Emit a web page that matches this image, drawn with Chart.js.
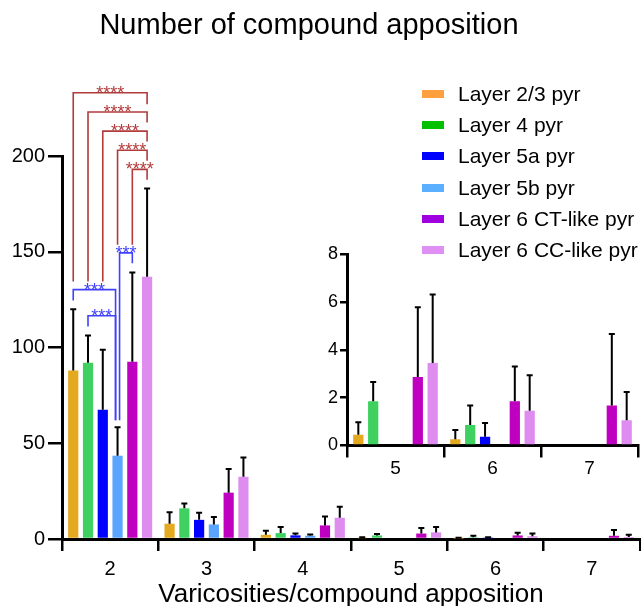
<!DOCTYPE html>
<html lang="en">
<head>
  <meta charset="UTF-8" />
  <title>Number of compound apposition</title>
  <script src="https://cdn.jsdelivr.net/npm/chart.js"></script>
  <style>
    html, body { margin: 0; padding: 0; background: #fff; }
    #wrap { position: relative; width: 641px; height: 606px; font-family: "Liberation Sans", Arial, sans-serif; }
    #mainCanvas { position: absolute; left: 0; top: 0; }
    #insetBox { position: absolute; left: 290px; top: 236px; width: 351px; height: 240px; }
    #legend { position: absolute; left: 422px; top: 78px; }
    .leg-row { height: 31.3px; display: flex; align-items: center; font-size: 21px; color: #000; white-space: nowrap; }
    .leg-box { width: 22px; height: 8px; margin-right: 14px; }
  </style>
</head>
<body>
  <div id="wrap">
    <canvas id="mainCanvas" width="641" height="606"></canvas>
    <div id="insetBox"><canvas id="insetCanvas" width="351" height="240"></canvas></div>
    <div id="legend"></div>
  </div>

  <script>
    // categories (varicosities per compound apposition)
    const categories = ["2", "3", "4", "5", "6", "7"];
    const insetCategories = ["5", "6", "7"];
    const seriesNames = ["Layer 2/3 pyr", "Layer 4 pyr", "Layer 5a pyr", "Layer 5b pyr", "Layer 6 CT-like pyr", "Layer 6 CC-like pyr"];

    // means
    const l23Mean  = [88, 8, 2.2, 0.45, 0.26, 0];
    const l4Mean   = [92, 16, 3.1, 1.85, 0.86, 0];
    const l5aMean  = [67.5, 10, 1.9, 0, 0.37, 0];
    const l5bMean  = [43.5, 7.6, 1.7, 0, 0, 0];
    const l6ctMean = [92.5, 24.2, 7.1, 2.86, 1.85, 1.67];
    const l6ccMean = [137, 32.5, 11.1, 3.45, 1.45, 1.06];

    // SD (upper error bar)
    const l23Sd  = [32, 6, 2.1, 0.52, 0.39, 0];
    const l4Sd   = [14.3, 2.6, 3.2, 0.8, 0.81, 0];
    const l5aSd  = [31.3, 3.7, 1.0, 0, 0.57, 0];
    const l5bSd  = [14.8, 3.9, 0.7, 0, 0, 0];
    const l6ctSd = [46.7, 12.3, 4.7, 2.92, 1.45, 2.99];
    const l6ccSd = [46, 10, 5.8, 2.86, 1.48, 1.17];

    const yTicks = [0, 50, 100, 150, 200];
    const insetTicks = [0, 2, 4, 6, 8];

    // significance brackets in category "2": [fromSeries, toSeries, lineY, fromLegEnd, toLegEnd, label]
    const redBrackets = [
      [0, 5, 233, 134.5, 227, "****"],
      [1, 5, 223, 134.5, 217.5, "****"],
      [2, 5, 213, 134.5, 207.6, "****"],
      [3, 5, 203, 153.7, 197.5, "****"],
      [4, 5, 193, 153.7, 187.6, "****"]
    ];
    const blueBrackets = [
      [0, 3, 130.2, 124.6, 62, "***"],
      [1, 3, 116.6, 111, 62, "***"],
      [3, 4, 149.4, 62, 144, "***"]
    ];

    const barColors = ["#E5A920", "#3FD160", "#0000FF", "#5AA5FF", "#C000C0", "#DF8CF0"];
    const legendColors = ["#FFA040", "#00C000", "#0000FF", "#5AAFFF", "#A000E0", "#E090F5"];
    const FONT = '"Liberation Sans", Arial, sans-serif';

    const means = [l23Mean, l4Mean, l5aMean, l5bMean, l6ctMean, l6ccMean];
    const sds = [l23Sd, l4Sd, l5aSd, l5bSd, l6ctSd, l6ccSd];

    const errorBars = {
      id: "errorBars",
      afterDatasetsDraw(chart) {
        const ctx = chart.ctx, y = chart.scales.y;
        chart.data.datasets.forEach((ds, i) => {
          chart.getDatasetMeta(i).data.forEach((bar, j) => {
            const sd = ds.sd[j];
            if (!sd) return;
            const top = y.getPixelForValue(ds.data[j] + sd);
            ctx.save();
            ctx.strokeStyle = "#000";
            ctx.lineWidth = 2;
            ctx.beginPath();
            ctx.moveTo(bar.x, bar.y);
            ctx.lineTo(bar.x, top);
            ctx.moveTo(bar.x - 3, top);
            ctx.lineTo(bar.x + 3, top);
            ctx.stroke();
            ctx.restore();
          });
        });
      }
    };

    const brackets = {
      id: "brackets",
      afterDraw(chart) {
        const ctx = chart.ctx, y = chart.scales.y;
        const bx = s => chart.getDatasetMeta(s).data[0].x;
        function draw(list, color, shiftBlue) {
          list.forEach(([a, b, yv, aEnd, bEnd, label]) => {
            let xa = bx(a), xb = bx(b);
            if (shiftBlue) {
              if (a === 3) xa += 2;
              if (b === 3) xb -= 2;
            }
            const py = y.getPixelForValue(yv);
            ctx.save();
            ctx.strokeStyle = color;
            ctx.lineWidth = 1.6;
            ctx.beginPath();
            ctx.moveTo(xa, y.getPixelForValue(aEnd));
            ctx.lineTo(xa, py);
            ctx.lineTo(xb, py);
            ctx.lineTo(xb, y.getPixelForValue(bEnd));
            ctx.stroke();
            ctx.fillStyle = color;
            ctx.font = "18px " + FONT;
            ctx.textAlign = "center";
            ctx.textBaseline = "alphabetic";
            ctx.fillText(label, (xa + xb) / 2, py + 6);
            ctx.restore();
          });
        }
        draw(redBrackets, "#B23B3B", false);
        draw(blueBrackets, "#4040FF", true);

        // title
        ctx.save();
        ctx.fillStyle = "#000";
        ctx.font = "29px " + FONT;
        ctx.textAlign = "center";
        ctx.textBaseline = "middle";
        ctx.fillText("Number of compound apposition", 309, 26);
        ctx.restore();
      }
    };

    function makeDatasets(cut) {
      return seriesNames.map((name, i) => ({
        label: name,
        data: cut ? means[i].slice(3) : means[i],
        sd: cut ? sds[i].slice(3) : sds[i],
        backgroundColor: barColors[i],
        borderWidth: 0,
        barPercentage: 0.69,
        categoryPercentage: 0.92
      }));
    }

    Chart.defaults.font.family = FONT;
    Chart.defaults.color = "#000";

    new Chart(document.getElementById("mainCanvas"), {
      type: "bar",
      data: { labels: categories, datasets: makeDatasets(false) },
      options: {
        responsive: false,
        animation: false,
        layout: { padding: { top: 156, right: 1, left: 0, bottom: 0 } },
        plugins: { legend: { display: false }, tooltip: { enabled: false } },
        scales: {
          x: {
            grid: { drawOnChartArea: false, drawTicks: true, tickLength: 12, lineWidth: 2.5, color: "#000" },
            border: { display: true, width: 3, color: "#000" },
            ticks: { font: { size: 20 }, padding: 6, color: "#000" },
            title: { display: true, text: "Varicosities/compound apposition", font: { size: 26 }, padding: { top: 0, bottom: -4 }, color: "#000" },
            afterFit: s => { s.height = 67; }
          },
          y: {
            min: 0, max: 200,
            afterBuildTicks: s => { s.ticks = yTicks.map(v => ({ value: v })); },
            grid: { drawOnChartArea: false, drawTicks: true, tickLength: 14, lineWidth: 2.5, color: "#000" },
            border: { display: true, width: 3, color: "#000" },
            ticks: { font: { size: 20 }, padding: 3, color: "#000" },
            afterFit: s => { s.width = 62; }
          }
        }
      },
      plugins: [errorBars, brackets]
    });

    new Chart(document.getElementById("insetCanvas"), {
      type: "bar",
      data: { labels: insetCategories, datasets: makeDatasets(true) },
      options: {
        responsive: false,
        animation: false,
        layout: { padding: { top: 18, right: 3, left: 0, bottom: 0 } },
        plugins: { legend: { display: false }, tooltip: { enabled: false } },
        scales: {
          x: {
            grid: { drawOnChartArea: false, drawTicks: true, tickLength: 12, lineWidth: 2.5, color: "#000" },
            border: { display: true, width: 3, color: "#000" },
            ticks: { font: { size: 19 }, padding: 0, color: "#000" },
            afterFit: s => { s.height = 30.5; }
          },
          y: {
            min: 0, max: 8,
            afterBuildTicks: s => { s.ticks = insetTicks.map(v => ({ value: v })); },
            grid: { drawOnChartArea: false, drawTicks: true, tickLength: 7, lineWidth: 2.5, color: "#000" },
            border: { display: true, width: 3, color: "#000" },
            ticks: { font: { size: 18 }, padding: 2, color: "#000" },
            afterFit: s => { s.width = 57; }
          }
        }
      },
      plugins: [errorBars]
    });

    const legend = document.getElementById("legend");
    seriesNames.forEach((name, i) => {
      const row = document.createElement("div");
      row.className = "leg-row";
      row.innerHTML = `<span class="leg-box" style="background:${legendColors[i]}"></span><span>${name}</span>`;
      legend.appendChild(row);
    });
  </script>
</body>
</html>
